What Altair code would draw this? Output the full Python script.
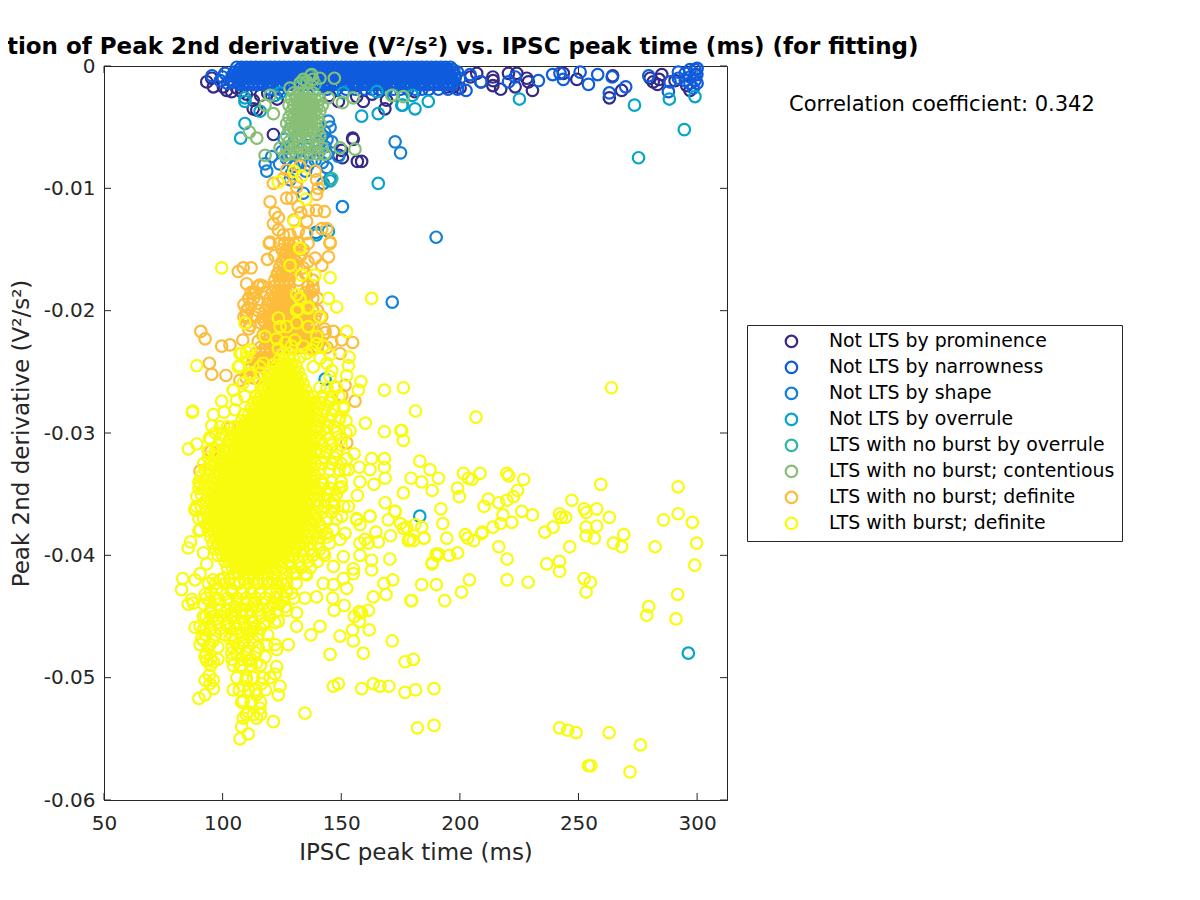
import altair as alt
import pandas as pd

CATS = ["Not LTS by prominence", "Not LTS by narrowness", "Not LTS by shape", "Not LTS by overrule",
        "LTS with no burst by overrule", "LTS with no burst; contentious", "LTS with no burst; definite",
        "LTS with burst; definite"]
COLORS = ["#352A87", "#0F5CDD", "#1481D6", "#06A4CA", "#2EB7A4", "#87BF76", "#FDBD3C", "#F9FB0E"]
X_TICKS = [50, 100, 150, 200, 250, 300]
Y_TICKS = [-0.06, -0.05, -0.04, -0.03, -0.02, -0.01, 0]

PROM = [(93.3,-.0013),(96.1,-.0017),(95.4,-.0010),(101.7,-.0020),(105.9,-.0018),(112.9,-.0028),(112.9,-.0035),
(121.4,-.0056),(155,-.0060),(156.8,-.0078),(149,-.0073),(159.3,-.0029),(168.4,-.0035),(154.8,-.0059),(158.6,-.0078),
(150.5,-.0075),(150.2,-.0069),(148.8,-.0029),(114.4,-.0036),(100.3,-.0017),(103.8,-.0021),(156.5,-.0025),(169.1,-.0028),
(207.1,-.0006),(208.9,-.0013),(213.9,-.0009),(213.9,-.0016),(217.2,-.0019),(220.5,-.0006),(224,-.0006),(223.3,-.0017),
(228.2,-.0010),(228.9,-.0013),(230.6,-.0020),(243.6,-.0006),(249.3,-.0011),(264.4,-.0008),(263,-.0026),(268.2,-.0020),
(280.2,-.0010),(285.1,-.0007),(283.3,-.0015),(290.7,-.0012),(200.1,-.0018),(197.3,-.0017),(194.5,-.0017),(297,-.0020),
(295.6,-.0016),(108,-.0021),(110,-.0023),(116,-.0024),(119,-.0022),(123,-.0027),(145,-.0024),(163,-.0023),(181,-.0021),
(204.5,-.0009),(214,-.0012),(281.5,-.0013),(284,-.0011)]
NARROW = [(202.6,-.0020),(204.3,-.0007),(208.9,-.0013),(220.5,-.0013),(223.3,-.0009),(233.1,-.0012),(239.1,-.0007),
(242.2,-.0006),(243.6,-.0011),(250.7,-.0005),(254.2,-.0015),(258.1,-.0007),(264.2,-.0009),(263,-.0022),(269.9,-.0017),
(279.6,-.0008),(287.9,-.0021),(288.6,-.0013),(292.1,-.0005),(292.1,-.0010),(299.1,-.0003),(299.1,-.0007),(299.1,-.0012),
(297,-.0003),(297,-.0009),(297,-.0014),(299.9,-.0007),(298.4,-.0018),(295,-.0006),(295,-.0012),(300,-.0014),(300,-.0002),
(99,-.0012),(100,-.0009),(102,-.0014),(104,-.0008),(104,-.0013),(95.5,-.0008),(101,-.0006)]
NARROW_ROWS = {
-.0001: [106,108,110,112,114,116,118,120,122,124,126,128,130,132,134,136,138,140,142,144,146,148,150,152,154,156,158,160,162,164,166,168,170,172,174,176,178,180,182,184,186,188,190,192,194,196],
-.0003: [107,109,111,113,115,117,119,121,123,125,127,129,131,133,135,137,139,141,143,145,147,149,151,153,155,157,159,161,163,165,167,169,171,173,175,177,179,181,183,185,187,189,191,193,195,197],
-.0005: [105,107,109,111,113,115,117,119,121,123,125,127,129,131,133,135,137,139,141,143,145,147,149,151,153,155,157,159,161,163,165,167,169,171,173,175,177,179,181,183,185,187,189,191,193,195,197,199],
-.0008: [106,108,110,112,114,116,118,120,122,124,126,128,130,132,134,136,138,140,142,144,146,148,150,152,154,156,158,160,162,164,166,168,170,172,174,176,178,180,182,184,186,188,190,192,194,196,198],
-.0010: [106,108,110,112,114,116,118,120,122,124,126,128,130,132,134,136,138,140,142,144,146,148,150,152,154,156,158,160,162,164,166,168,170,172,174,176,178,180,182,184,186,188,190,192,194,196,198,200],
-.0013: [105,107,109,111,113,115,117,119,121,123,125,127,129,131,133,135,137,139,141,143,145,147,149,151,153,155,157,159,161,163,165,167,169,171,173,175,177,179,181,183,185,187,189,191,193,195,197],
-.0015: [107,109,111,113,115,117,119,121,123,125,127,129,131,133,135,137,139,141,143,145,147,149,151,153,155,157,159,161,163,165,167,169,171,173,175,177,179,181,183,185,187,189,191,193,195,197],
-.0019: [120,124,128,132,140,144,148,152,156,160,163,166,169,172,175,178,181,184,187,191,195,199],
}
SHAPE = [(117.9,-.0080),(118.6,-.0086),(120.7,-.0074),(143.9,-.0083),(142.4,-.0096),(145.3,-.0092),(150.5,-.0115),
(148.8,-.0074),(143.2,-.0066),(144.6,-.0045),(145.3,-.0050),(141.7,-.0058),(172.7,-.0062),(175,-.0071),(128.4,-.0093),
(134,-.0104),(190,-.0140),(171.5,-.0193),(139.4,-.0136),(124,-.0080),(127,-.0076),(130,-.0082),(133,-.0078),(136,-.0081),
(139,-.0077),(142,-.0079),(125,-.0070),(129,-.0072),(133,-.0068),(137,-.0071),(141,-.0069),(144,-.0072),(146,-.0062),
(143,-.0054),(144,-.0060),(126,-.0060),(128,-.0066),(132,-.0062),(136,-.0065),(140,-.0063),(122,-.0024),(135,-.0086),(129,-.0088)]
OVERRULE = [(294.6,-.0052),(275.3,-.0075),(273.6,-.0032),(288.3,-.0027),(299.1,-.0025),(225.1,-.0027),(186.7,-.0029),
(181.1,-.0035),(175.9,-.0032),(109.4,-.0026),(109.4,-.0029),(115.8,-.0037),(109.4,-.0047),(107.6,-.0059),(165.6,-.0039),
(158.6,-.0041),(165.6,-.0096),(145.3,-.0094),(139.6,-.0138),(144.6,-.0135),(124.2,-.0022),(150.9,-.0022),(128.4,-.0052),
(129.8,-.0063),(136.8,-.0059),(175.5,-.0032),(296.3,-.0480),(183.1,-.0368),(143.2,-.0256),(165,-.0021),(172,-.0024),(180,-.0024)]
NOBURST_OVR = [(146,-.0092),(135,-.0012),(137,-.0008),(139,-.0015),(133,-.0016)]
CONT = [(111.3,-.0054),(114.4,-.0059),(117.9,-.0073),(124.2,-.0067),(126.3,-.0073),(155.8,-.0068),(149.5,-.0067),
(147.1,-.0010),(141,-.0010),(137.5,-.0007),(134,-.0011),(132.6,-.0014),(120,-.0024),(117.9,-.0032),(121.4,-.0039),
(128.4,-.0018),(144.6,-.0026),(155.1,-.0026),(150.5,-.0030),(171.3,-.0024),(176.2,-.0025),(135.5,-.0013),(138,-.0011)]
CONT_ROWS = {
-.0022: [130,132,134,136,138],
-.0027: [129,131,133,135,137,139,141],
-.0032: [128,130,132,134,136,138,140,142],
-.0037: [129,131,133,135,137,139,141],
-.0042: [128,130,132,134,136,138,140],
-.0047: [127,129,131,133,135,137,139,141],
-.0052: [128,130,132,134,136,138,140],
-.0057: [127,131,133,135,139,141],
-.0062: [128,132,136,140],
-.0067: [127,130,133,136,139,142],
-.0072: [128,131,134,137,140,143],
}
ORANGE = [(106.6,-.0168),(108.7,-.0165),(112,-.0165),(110.1,-.0178),(118.9,-.0158),(119.7,-.0145),(145.3,-.0145),
(144.6,-.0156),(141.8,-.0163),(139,-.0157),(90.8,-.0217),(92.6,-.0223),(99.6,-.0229),(103.1,-.0228),(108.5,-.0224),
(94.4,-.0243),(95.4,-.0252),(101.4,-.0253),(146.7,-.0217),(154.8,-.0226),(150.2,-.0224),(146,-.0226),(149.5,-.0235),
(151.6,-.0261),(150.2,-.0269),(155.8,-.0274),(103.1,-.0296),(95.1,-.0315),(90.5,-.0331),(152.3,-.0308),
(120,-.0111),(122.1,-.0120),(123.5,-.0124),(121.4,-.0129),(127,-.0108),(129.1,-.0108),(131.9,-.0115),(136.1,-.0118),
(139.6,-.0118),(142.9,-.0119),(135.4,-.0127),(141.8,-.0133),(143.9,-.0133),(145.3,-.0144),(135.4,-.0137),(120,-.0144),
(123.5,-.0134),(125.6,-.0138),(128.4,-.0138),(131.9,-.0135),(127,-.0085),(132.6,-.0082),(139,-.0086),(121.4,-.0096),
(125.6,-.0092),(131.2,-.0099),(139.6,-.0093),(140.3,-.0100),(139.6,-.0105),(131.2,-.0095),(130,-.0126),(133,-.0120),
(123.5,-.0169),(127.7,-.0175),(113,-.0186),(115.8,-.0179),(115,-.0194),(110.8,-.0198),(110.1,-.0204),(111.6,-.0212),
(117.2,-.0208),(118.6,-.0221),(117.9,-.0235),(121.4,-.0238),(115.8,-.0243),(111.6,-.0248),(107.3,-.0257),(138.2,-.0183),
(141.8,-.0205),(139,-.0224),(143.2,-.0218)]
ORANGE_ROWS = {
-.0145: [124,126,128,130,132,136],
-.0150: [125,127,129,131,134],
-.0155: [126,128,130,133,122],
-.0160: [125,127,129,131,136],
-.0165: [124,126,128,131,134],
-.0170: [123,125,127,129,135],
-.0175: [122,124,126,128,132,138],
-.0180: [115,117,122,124,126,128,136,138],
-.0185: [112,114,118,121,123,125,127,129,135,137],
-.0190: [111,113,120,122,124,126,128,130,134,138,140],
-.0195: [109,112,119,121,123,125,127,129,131,133,135],
-.0200: [110,115,118,120,122,124,126,128,130,132,134,136,138,140],
-.0205: [109,113,117,119,121,123,125,127,129,131,133,135,137,139],
-.0210: [110,116,118,120,122,124,126,128,130,132,134,136,138],
-.0215: [111,119,121,123,125,127,129,131,133,135,137,143],
-.0220: [117,120,122,124,126,128,130,132,134,136,138,140],
-.0225: [115,119,121,123,125,127,129,131,133,135,137,139,141],
-.0230: [116,118,120,122,124,126,128,130,132,134,136,138,140,144],
-.0235: [114,116,118,120,122,124],
-.0240: [113,115,117,119,121],
-.0245: [112,114,116,118],
-.0255: [110,113,115],
}
BURST = [(176.2,-.0263),(181.3,-.0282),(206.8,-.0287),(263.9,-.0263),(175.5,-.0298),(176.2,-.0306),(183.1,-.0323),
(187.4,-.0330),(179.4,-.0337),(183.9,-.0340),(191,-.0337),(188.3,-.0347),(176.2,-.0349),(201.5,-.0333),(203.6,-.0337),
(205.1,-.0338),(208.5,-.0333),(199,-.0345),(199.8,-.0352),(219.8,-.0333),(220.6,-.0335),(226.9,-.0338),(224.3,-.0347),
(222.6,-.0352),(219.8,-.0355),(216.4,-.0357),(212,-.0354),(210.2,-.0360),(218.2,-.0367),(226.1,-.0364),(230.6,-.0367),
(221.9,-.0373),(217.2,-.0374),(213.9,-.0377),(209.5,-.0381),(209.2,-.0382),(205.9,-.0388),(203.3,-.0386),(202.3,-.0383),
(216.4,-.0393),(219.9,-.0403),(219.9,-.0420),(228.8,-.0422),(204,-.0420),(200.7,-.0430),(193.6,-.0437),(190.1,-.0424),
(183.9,-.0424),(179.4,-.0437),(192,-.0362),(192.8,-.0374),(194.5,-.0386),(199,-.0398),(195.5,-.0400),(191,-.0399),
(190,-.0399),(188.3,-.0407),(184.9,-.0386),(183.9,-.0377),(180.4,-.0388),(178.3,-.0388),(177.6,-.0377),(176.2,-.0378),
(181.1,-.0375),(247.2,-.0355),(259.4,-.0342),(292,-.0344),(292,-.0366),(285.8,-.0371),(298,-.0373),(299.8,-.0390),
(299,-.0408),(282.3,-.0393),(269.1,-.0383),(268.2,-.0393),(264.7,-.0390),(263,-.0369),(257.7,-.0362),(257.7,-.0376),
(256.7,-.0386),(253.2,-.0384),(253.2,-.0377),(252.4,-.0362),(253.2,-.0365),(242,-.0366),(242.8,-.0369),(244.6,-.0369),
(239.3,-.0377),(235.8,-.0381),(246.3,-.0393),(242,-.0405),(242,-.0413),(236.6,-.0407),(252.4,-.0419),(255,-.0422),
(253.2,-.0430),(291.8,-.0432),(279.6,-.0442),(278.8,-.0449),(291.1,-.0452),(176.9,-.0487),(180.4,-.0485),(176.9,-.0512),
(181.3,-.0510),(189.1,-.0509),(182.1,-.0541),(189.1,-.0539),(242,-.0541),(245.5,-.0543),(249,-.0545),(262.9,-.0545),
(276.1,-.0555),(254.2,-.0572),(255.2,-.0572),(271.7,-.0577),
(141,-.0377),(146.7,-.0379),(150.2,-.0368),(156.5,-.0371),(157.9,-.0375),(162.1,-.0368),(151.6,-.0382),(149.5,-.0387),
(143.9,-.0382),(160,-.0387),(157.9,-.0390),(161.4,-.0390),(164.6,-.0381),(165.6,-.0389),(170.8,-.0384),(169.8,-.0371),
(172.7,-.0364),(175,-.0374),(179,-.0387),(184.9,-.0386),(170.5,-.0403),(162.8,-.0404),(162.8,-.0412),(155.1,-.0411),
(155.1,-.0415),(150.9,-.0401),(157.9,-.0400),(142.4,-.0398),(146.7,-.0409),(142.4,-.0423),(150.9,-.0419),(152.3,-.0427),
(146.7,-.0424),(171.7,-.0420),(168,-.0423),(168.9,-.0432),(163.5,-.0434),(179.7,-.0437),(188.4,-.0406),(190.2,-.0400),
(146.4,-.0435),(151.3,-.0441),(147,-.0445),(139.6,-.0434),(134.7,-.0435),(129.1,-.0431),(157.6,-.0446),(155.5,-.0450),
(158.6,-.0447),(161.4,-.0445),(157.6,-.0454),(161.8,-.0461),(154.8,-.0461),(149.5,-.0466),(155.1,-.0470),(171.5,-.0470),
(159.3,-.0480),(145.3,-.0481),(141,-.0458),(137.2,-.0465),(131.2,-.0458),(131.2,-.0447),(123.5,-.0454),(127.7,-.0473),
(122.8,-.0477),(118.6,-.0473),(122.1,-.0473),(146.7,-.0507),(148.8,-.0505),(158.6,-.0509),(163.5,-.0505),(166.3,-.0507),
(170.1,-.0507),(134.7,-.0529),(121.4,-.0536),
(107.3,-.0550),(110.8,-.0546),(108,-.0540),(108.7,-.0533),(114.3,-.0533),(110.8,-.0528),(115.7,-.0525),(108.7,-.0519),
(114.3,-.0514),(104.5,-.0510),(108.7,-.0507),(109.8,-.0502),(116.4,-.0505),(123.5,-.0514),(124.2,-.0507),(122.1,-.0497),
(122.8,-.0491),(117.9,-.0483),(114.3,-.0488),(110.8,-.0486),(107.3,-.0491),(104.5,-.0490),(103.8,-.0480),(108.7,-.0472),
(103.1,-.0468),(112.2,-.0462),(107.3,-.0456),(101.7,-.0457),(117.2,-.0456),
(90,-.0517),(92.6,-.0514),(96.1,-.0509),(94.7,-.0505),(92.6,-.0502),(96.1,-.0502),(94.4,-.0498),(96.1,-.0487),(93.3,-.0486),
(92.6,-.0483),(94.7,-.0473),(90.5,-.0473),(91.2,-.0468),(88.4,-.0459),(90.5,-.0458),(94.7,-.0461),(91.9,-.0450),(94.7,-.0447),
(97.5,-.0452),(85.5,-.0440),(87,-.0436),(87.6,-.0439),(82.7,-.0428),(83.2,-.0419),(88.4,-.0420),(90.5,-.0415),(92.6,-.0432),
(94.7,-.0438),(98.2,-.0436),(101.7,-.0444),(105.2,-.0442),(110.1,-.0447),(114.3,-.0442),(119.9,-.0443),(126.3,-.0442),
(103.8,-.0428),(97.5,-.0427),(108.7,-.0431),(115.7,-.0431),(122.8,-.0434),(107.3,-.0422),(114.3,-.0422),(119.9,-.0422),
(125.6,-.0424),(129.8,-.0415),(135.4,-.0416),(100.3,-.0419),(85.5,-.0394),(86.5,-.0389),(90.5,-.0379),(91.9,-.0398),
(93.3,-.0407),(88.4,-.0363),
(99.6,-.0165),(162.8,-.0190),(145.3,-.0173),(144.6,-.0190),(148.1,-.0197),(152.3,-.0217),(153.3,-.0238),(153,-.0245),
(152.3,-.0253),(158.3,-.0258),(168.2,-.0265),(157.2,-.0265),(160.2,-.0292),(168.2,-.0299),(175.1,-.0298),(155.4,-.0317),
(152.3,-.0321),(162.8,-.0321),(168.2,-.0321),(168.2,-.0328),(162.1,-.0330),(157.6,-.0328),(151.6,-.0330),(168.5,-.0337),
(163.8,-.0342),(157.9,-.0340),(156.8,-.0351),(150.2,-.0344),(142.5,-.0342),(168.5,-.0357),(172.7,-.0364),(153,-.0360),
(146,-.0357),(162.1,-.0368),(156.5,-.0370),
(89.1,-.0245),(87.2,-.0283),(87.4,-.0282),(96.1,-.0285),(95.4,-.0294),(94.4,-.0304),(85.6,-.0313),(89.1,-.0309),(100.6,-.0283),
(99.6,-.0274),(104.5,-.0265),(107.1,-.0245),(109.4,-.0210),(110.2,-.0234),(108,-.0235),(100.3,-.0314),(96.8,-.0318),(96.8,-.0325),
(88.4,-.0362),(89.1,-.0352),(90.5,-.0342),(92.6,-.0330),
(132.6,-.0149),(128.4,-.0163),(133.3,-.0171),(138.9,-.0171),(131.2,-.0187),(136.1,-.0197),(131.2,-.0200),(123.5,-.0206),
(141,-.0205),(122.8,-.0223),(117.9,-.0221),(130.5,-.0224),(139.7,-.0221),(142.5,-.0229),(143.9,-.0243),(146,-.0249),
(117.2,-.0243),(111.6,-.0251),(136.1,-.0213),(131.2,-.0210),(127,-.0213),
(123.5,-.0095),(133.3,-.0090),(130.1,-.0086),(135.1,-.0109),(130.2,-.0127),(132.6,-.0149),
(132.6,-.0190),(124.2,-.0213),(131.9,-.0199),(136.1,-.0198),(135.4,-.0235),(128.4,-.0235),(145.3,-.0236),(141.1,-.0239),
(138.2,-.0246),(132.6,-.0238),(125.6,-.0235),(121.4,-.0244),(115.8,-.0246),(111.6,-.0232),(107.3,-.0235),(110.1,-.0238),
(106.6,-.0246),(111.6,-.0253),(115.8,-.0251),(108.7,-.0259),(104.5,-.0265),(105.9,-.0273),(111.6,-.0262),(117.2,-.0262),
(114.4,-.0270),(109.4,-.0270),(105.2,-.0281),(145.3,-.0254),(147.4,-.0262),(145.3,-.0273),(150.9,-.0278),(149.5,-.0287),
(153.7,-.0298),(143.9,-.0295),(126.5,-.0226),(134,-.0229),(137.5,-.0232),(129,-.0229),(123.5,-.0231),(139.6,-.0227)]
BURST_HALO = {
-.0263: [141,144,148],
-.027: [142,146,149],
-.0275: [141,145],
-.028: [143,147,151],
-.0285: [142,146],
-.029: [141,145,149,152],
-.0295: [99,102,140,147],
-.030: [97,100,141,144,148,152],
-.0305: [95,99,141,145,150],
-.031: [98,142,146,150],
-.0315: [94,97,141,144,148],
-.032: [94,97,143,147],
-.0325: [92,95,142,146,150],
-.033: [94,141,145,149,153],
-.0335: [91,94],
-.034: [90,93,142,146,150],
-.0345: [90,92,141,145,149],
-.035: [91,141,144,148],
-.0355: [140,143,147],
-.036: [89,91,140,143,147,151],
-.0365: [139,142,146],
-.037: [90,139,144,148],
-.0375: [138,141],
-.038: [90,139,142],
-.0385: [138,141,144],
-.039: [137,140,145],
-.0395: [134,137,141],
-.040: [130,134,138,143],
-.0405: [128,132,136,140],
-.041: [125,129,133,137],
-.0415: [122,127,131,135],
-.042: [96,99,103,109,113,117,121,125],
-.0423: [94,97,101,105,107,111,115,119,123,127,131],
-.043: [95,100,104,108,112,116,120,123,127],
-.0435: [93,97,102,106,110,114,118,122,126,130],
-.044: [92,98,103,106,110,113,117,121,124],
-.0445: [95,99,102,105,108,112,115,119,123,127],
-.045: [93,96,100,104,108,112,116,120],
-.0455: [94,98,102,105,109,113,118,122],
-.046: [92,95,99,103,106,110,113,116],
-.0465: [93,97,101,104,108,111,115,119],
-.047: [92,96,105,109,113],
-.0475: [94,98,104,107,111,115],
-.048: [93,106,110,114],
-.0485: [95,98,104,108,112],
-.049: [95,108,112,116],
-.050: [106,110,113,117,120],
-.051: [107,111,114,118],
-.052: [108,112,116],
-.053: [110,113,116],
}
BURST_ROWS = {
-.0240: [124,126,128,130],
-.0245: [123,125,127,129,131],
-.0250: [120,122,124,126,128,130,132],
-.0255: [119,121,123,125,127,129,131,133],
-.0260: [118,120,122,124,126,128,130,132,134],
-.0265: [117,119,121,123,125,127,129,131,133,135],
-.0270: [114,116,118,120,122,124,126,128,130,132,134,136,138],
-.0275: [113,115,117,119,121,123,125,127,129,131,133,135,137,139],
-.0280: [112,114,116,118,120,122,124,126,128,130,132,134,136,138,140],
-.0285: [109,111,113,115,117,119,121,123,125,127,129,131,133,135,137,139],
-.0290: [108,110,112,114,116,118,120,122,124,126,128,130,132,134,136,138,140],
-.0295: [105,107,109,111,113,115,117,119,121,123,125,127,129,131,133,135,137,139],
-.0300: [104,106,108,110,112,114,116,118,120,122,124,126,128,130,132,134,136,138],
-.0305: [103,105,107,109,111,113,115,117,119,121,123,125,127,129,131,133,135,137,139],
-.0310: [102,104,106,108,110,112,114,116,118,120,122,124,126,128,130,132,134,136,138],
-.0315: [101,103,105,107,109,111,113,115,117,119,121,123,125,127,129,131,133,135,137,139],
-.0320: [100,102,104,106,108,110,112,114,116,118,120,122,124,126,128,130,132,134,136,138],
-.0325: [99,101,103,105,107,109,111,113,115,117,119,121,123,125,127,129,131,133,135,137,139],
-.0330: [98,100,102,104,106,108,110,112,114,116,118,120,122,124,126,128,130,132,134,136,138],
-.0335: [97,99,101,103,105,107,109,111,113,115,117,119,121,123,125,127,129,131,133,135,137,139],
-.0340: [96,98,100,102,104,106,108,110,112,114,116,118,120,122,124,126,128,130,132,134,136,138],
-.0345: [95,97,99,101,103,105,107,109,111,113,115,117,119,121,123,125,127,129,131,133,135,137,139],
-.0350: [94,96,98,100,102,104,106,108,110,112,114,116,118,120,122,124,126,128,130,132,134,136,138],
-.0355: [93,95,97,99,101,103,105,107,109,111,113,115,117,119,121,123,125,127,129,131,133,135,137],
-.0360: [94,96,98,100,102,104,106,108,110,112,114,116,118,120,122,124,126,128,130,132,134,136],
-.0365: [93,95,97,99,101,103,105,107,109,111,113,115,117,119,121,123,125,127,129,131,133,135,137],
-.0370: [92,94,96,98,100,102,104,106,108,110,112,114,116,118,120,122,124,126,128,130,132,134,136],
-.0375: [93,95,97,99,101,103,105,107,109,111,113,115,117,119,121,123,125,127,129,131,133,135,137],
-.0380: [94,96,98,100,102,104,106,108,110,112,114,116,118,120,122,124,126,128,130,132,134,136],
-.0385: [95,97,99,101,103,105,107,109,111,113,115,117,119,121,123,125,127,129,131,133,135],
-.0390: [96,98,100,102,104,106,108,110,112,114,116,118,120,122,124,126,128,130,132,134],
-.0395: [97,99,101,103,105,107,109,111,113,115,117,119,121,123,125,127,129,131],
-.0400: [98,100,102,104,106,108,110,112,114,116,118,120,122,124,126,128],
-.0405: [101,103,105,107,109,111,113,115,117,119,121,123,125],
-.0410: [102,104,106,108,110,112,114,116,118,120,122],
-.0415: [105,107,109,111,113,115,117,119],
}


def expand(rows):
    return [(x, y) for y, xs in rows.items() for x in xs]


SERIES = [PROM, NARROW + expand(NARROW_ROWS), SHAPE, OVERRULE, NOBURST_OVR,
          CONT + expand(CONT_ROWS), ORANGE + expand(ORANGE_ROWS),
          expand(BURST_ROWS) + expand(BURST_HALO) + BURST]
records = []
for i, pts in enumerate(SERIES):
    records += [{"x": x, "y": y, "cat": CATS[i], "o": i} for x, y in pts]
df = pd.DataFrame(records)

INK = "#262626"
FONT = "DejaVu Sans"
xs = alt.Scale(domain=[50, 312.6], nice=False, zero=False)
ys = alt.Scale(domain=[-0.06, 0], nice=False, zero=False)
X_TITLE = "IPSC peak time (ms)"
Y_TITLE = "Peak 2nd derivative (V²/s²)"
X_AXIS = alt.Axis(values=X_TICKS, grid=False, ticks=False, labelFontSize=20, titleFontSize=23,
                  labelColor=INK, titleColor=INK, domainColor=INK, labelFont=FONT, titleFont=FONT,
                  titleFontWeight="normal", labelPadding=13, titlePadding=8, labelFlush=False, title=X_TITLE)
Y_AXIS = alt.Axis(values=Y_TICKS, grid=False, ticks=False, labelFontSize=20, titleFontSize=23,
                  labelColor=INK, titleColor=INK, domainColor=INK, labelFont=FONT, titleFont=FONT,
                  titleFontWeight="normal", labelPadding=9, titlePadding=10, title=Y_TITLE,
                  labelExpr="replace(format(datum.value,'.2~f'),'−','-')")

points = alt.Chart(df).mark_point(filled=False, size=132, strokeWidth=2.2, opacity=1, clip=False).encode(
    x=alt.X("x:Q", scale=xs, axis=X_AXIS),
    y=alt.Y("y:Q", scale=ys, axis=Y_AXIS),
    color=alt.Color("cat:N", scale=alt.Scale(domain=CATS, range=COLORS), sort=CATS,
                    legend=alt.Legend(title=None, orient="none", legendX=643, legendY=259,
                                      labelFontSize=18.9, labelFont=FONT, labelColor="black",
                                      symbolType="circle", symbolSize=132, symbolStrokeWidth=2.2,
                                      symbolOffset=28, labelOffset=28, rowPadding=5,
                                      strokeColor=INK, fillColor="white", padding=7,
                                      labelLimit=400)),
    order=alt.Order("o:Q"),
)

xt = pd.DataFrame({"v": X_TICKS})
yt = pd.DataFrame({"v": Y_TICKS})
tick = alt.Chart(xt).mark_rule(color=INK, strokeWidth=1)
tick_x1 = tick.encode(x=alt.X("v:Q", scale=xs, axis=X_AXIS), y=alt.value(734), y2=alt.value(727))
tick_x2 = tick.encode(x=alt.X("v:Q", scale=xs, axis=X_AXIS), y=alt.value(0), y2=alt.value(7))
tick2 = alt.Chart(yt).mark_rule(color=INK, strokeWidth=1)
tick_y1 = tick2.encode(y=alt.Y("v:Q", scale=ys, axis=Y_AXIS), x=alt.value(0), x2=alt.value(7))
tick_y2 = tick2.encode(y=alt.Y("v:Q", scale=ys, axis=Y_AXIS), x=alt.value(623), x2=alt.value(616))

note = alt.Chart(pd.DataFrame({"t": ["Correlation coefficient: 0.342"]})).mark_text(
    font=FONT, fontSize=21, color="black", align="left", baseline="middle").encode(
    text="t:N", x=alt.value(685), y=alt.value(39))

chart = alt.layer(tick_x1, tick_x2, tick_y1, tick_y2, points, note).properties(
    width=623, height=734,
    padding={"left": 96, "top": 58, "right": 465, "bottom": 92},
    autosize=alt.AutoSizeParams(type="none"),
    title=alt.TitleParams("Correlation of Peak 2nd derivative (V²/s²) vs. IPSC peak time (ms) (for fitting)",
                          font=FONT, fontSize=23, fontWeight="bold", color="black", anchor="middle", offset=-3),
).configure_view(stroke=INK)

chart.save("out.html", embed_options={"renderer": "svg", "actions": False})
